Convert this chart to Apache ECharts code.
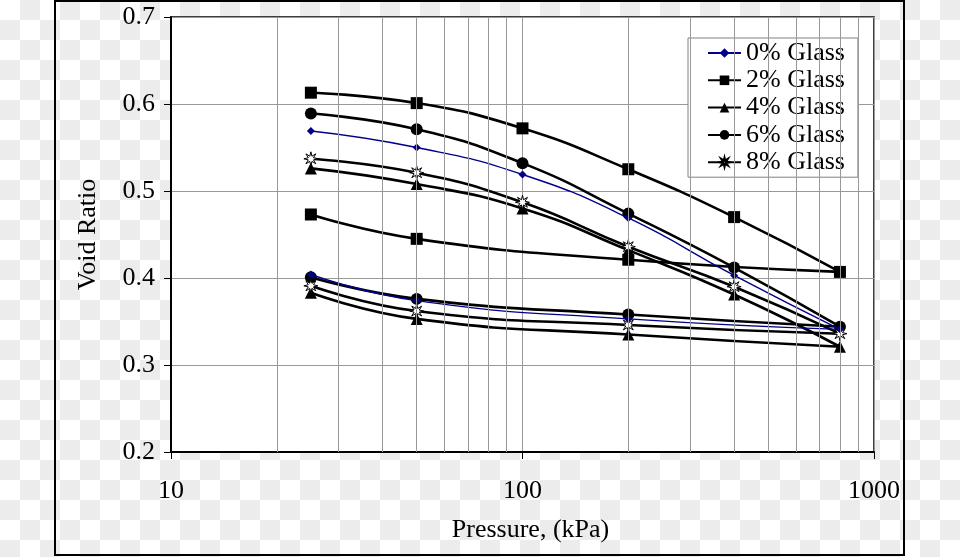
<!DOCTYPE html>
<html>
<head>
<meta charset="utf-8">
<script src="https://cdn.jsdelivr.net/npm/echarts@6/dist/echarts.min.js"></script>
<style>
html,body{margin:0;padding:0;}
body{width:960px;height:557px;background:repeating-conic-gradient(#ececec 0 25%, #ffffff 0 50%) 0 0/40px 40px;}
#c{width:960px;height:557px;}
</style>
</head>
<body>
<div id="c"></div>
<script>
// Data
var pressures = [25, 50, 100, 200, 400, 800, 200, 50, 25];
var glass0 = [0.569, 0.550, 0.519, 0.469, 0.403, 0.341, 0.353, 0.374, 0.404];
var glass2 = [0.613, 0.601, 0.572, 0.525, 0.470, 0.407, 0.421, 0.445, 0.473];
var glass4 = [0.526, 0.508, 0.480, 0.432, 0.381, 0.321, 0.335, 0.353, 0.383];
var glass6 = [0.589, 0.571, 0.532, 0.474, 0.412, 0.344, 0.358, 0.376, 0.401];
var glass8 = [0.537, 0.521, 0.487, 0.436, 0.390, 0.336, 0.346, 0.362, 0.391];
var seriesNames = ['0% Glass', '2% Glass', '4% Glass', '6% Glass', '8% Glass'];
var minorGridX = [20, 30, 40, 50, 60, 70, 80, 90, 200, 300, 400, 500, 600, 700, 800, 900];
var yTicks = ['0.2', '0.3', '0.4', '0.5', '0.6', '0.7'];
var xTicks = ['10', '100', '1000'];

function pairs(xs, ys) { return xs.map(function (x, i) { return [x, ys[i]]; }); }

var starPath = 'path://M10,0 L11.53,6.3 L17.07,2.93 L13.7,8.47 L20,10 L13.7,11.53 L17.07,17.07 L11.53,13.7 L10,20 L8.47,13.7 L2.93,17.07 L6.3,11.53 L0,10 L6.3,8.47 L2.93,2.93 L8.47,6.3 Z';
var font = 'Liberation Serif';
var fs = 26;

function blackSeries(name, values, symbol, size, fill) {
  return {
    name: name, type: 'line', data: pairs(pressures, values), smooth: 0.5,
    symbol: symbol, symbolSize: size, z: 3,
    lineStyle: { color: '#000', width: 2.6 },
    itemStyle: { color: fill || '#000', borderColor: '#000', borderWidth: fill ? 1 : 0 }
  };
}

var chart = echarts.init(document.getElementById('c'), null, { renderer: 'canvas' });
chart.setOption({
  animation: false,
  backgroundColor: 'transparent',
  textStyle: { fontFamily: font },
  grid: { left: 171, right: 86, top: 17, bottom: 105, show: true, backgroundColor: '#fff', borderColor: '#000', borderWidth: 1.5 },
  graphic: [{ type: 'rect', shape: { x: 55, y: 1, width: 849, height: 554 }, style: { fill: 'none', stroke: '#000', lineWidth: 2 }, silent: true, z: 0 }],
  legend: {
    data: seriesNames, orient: 'vertical', left: 688, top: 38,
    backgroundColor: '#fff', borderColor: '#808080', borderWidth: 1,
    padding: [2, 13, 2, 19], itemWidth: 33, itemHeight: 12, itemGap: 1.3,
    textStyle: { fontFamily: font, fontSize: fs, color: '#000', lineHeight: 26 }
  },
  xAxis: {
    type: 'log', logBase: 10, min: 10, max: 1000,
    name: 'Pressure, (kPa)', nameLocation: 'middle', nameGap: 65,
    nameTextStyle: { fontFamily: font, fontSize: fs, color: '#000', padding: [0, 0, 0, 16] },
    axisLine: { show: true, lineStyle: { color: '#000', width: 2 } },
    axisTick: { show: true, length: 7, lineStyle: { color: '#000', width: 1 } },
    axisLabel: { fontFamily: font, fontSize: fs, color: '#000', margin: 26,
      formatter: function (v) { var i = Math.round(Math.log10(v)) - 1; return xTicks[i] !== undefined ? xTicks[i] : String(v); } },
    splitLine: { show: true, lineStyle: { color: '#999', width: 1 } },
    minorTick: { show: false }, minorSplitLine: { show: false }
  },
  yAxis: {
    type: 'value', min: 0.2, max: 0.7, interval: 0.1,
    name: 'Void Ratio', nameLocation: 'middle', nameGap: 70,
    nameTextStyle: { fontFamily: font, fontSize: fs, color: '#000' },
    axisLine: { show: true, lineStyle: { color: '#000', width: 2 } },
    axisTick: { show: true, length: 7, lineStyle: { color: '#000', width: 1 } },
    axisLabel: { fontFamily: font, fontSize: fs, color: '#000', margin: 16,
      formatter: function (v) { var i = Math.round((v - 0.2) / 0.1); return yTicks[i] !== undefined ? yTicks[i] : v; } },
    splitLine: { show: true, lineStyle: { color: '#999', width: 1 } }
  },
  series: [
    {
      name: 'grid', type: 'line', data: [], z: 1, symbol: 'none', silent: true,
      markLine: {
        silent: true, symbol: ['none', 'none'], label: { show: false },
        lineStyle: { color: '#999', width: 1, type: 'solid' },
        data: minorGridX.map(function (v) { return { xAxis: v }; })
      }
    },
    {
      name: '0% Glass', type: 'line', data: pairs(pressures, glass0), smooth: 0.5,
      symbol: 'diamond', symbolSize: 8, z: 4,
      lineStyle: { color: '#00008b', width: 1.4 },
      itemStyle: { color: '#00008b' }
    },
    blackSeries('2% Glass', glass2, 'rect', 12),
    blackSeries('4% Glass', glass4, 'triangle', 12),
    blackSeries('6% Glass', glass6, 'circle', 12),
    blackSeries('8% Glass', glass8, starPath, 14, '#fff')
  ]
});
</script>
</body>
</html>
